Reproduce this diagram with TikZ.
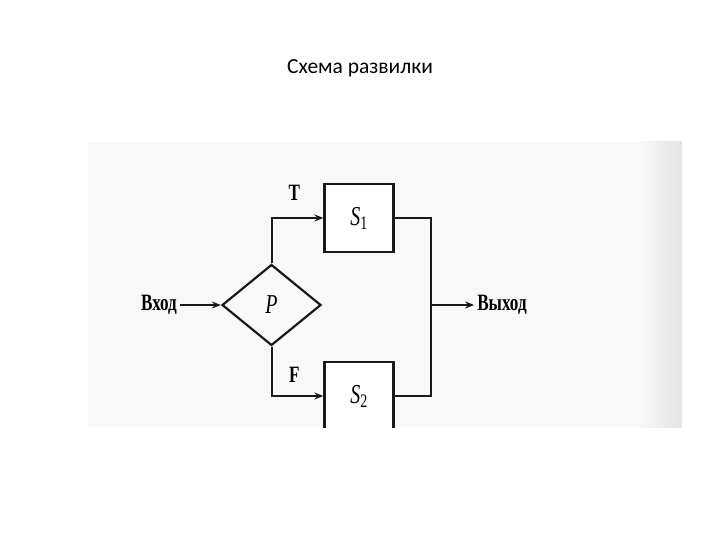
\documentclass[tikz,border=0pt]{standalone}
\usepackage{fontspec}
\setmainfont{Liberation Serif}
\newfontfamily\slidefont{Carlito}
\usepackage{tikz}
\usetikzlibrary{arrows.meta,positioning,calc,shapes.geometric}
\definecolor{ink}{RGB}{25,25,25}
\definecolor{paper}{RGB}{248,248,248}
\definecolor{edge}{RGB}{228,228,228}
\newcommand{\tall}[1]{\scalebox{0.95}[1.3]{#1}}
\tikzset{
  blk/.style={draw=ink,line width=2.2bp,fill=white,minimum width=69bp,minimum height=68bp,inner sep=0pt,
    font=\fontsize{21bp}{23bp}\selectfont},
  cond/.style={diamond,draw=ink,line width=2.2bp,minimum width=99bp,minimum height=81bp,inner sep=0pt,
    font=\fontsize{21bp}{23bp}\selectfont\itshape},
  lbl/.style={inner sep=3bp,font=\fontsize{18bp}{20bp}\selectfont\bfseries},
  arr/.style={-{Stealth[length=9bp,width=7bp]},line width=2bp,draw=ink},
  wire/.style={line width=2bp,draw=ink},
}
\begin{document}
\begin{tikzpicture}[x=1bp,y=-1bp]
  \useasboundingbox (0,0) rectangle (720,540);
  \node[font=\slidefont\fontsize{21.5bp}{25bp}\selectfont] (title) at (360,68) {Схема развилки};
  % scanned page
  \fill[paper] (88,142) rectangle (682,427);
  \shade[left color=paper,right color=edge] (640,142) rectangle (682,427);
  \begin{scope}
    \clip (88,142) rectangle (682,427);
    \node[cond] (p) at (271.5,305) {\tall{P}};
    \node[blk] (s1) at (359,218) {\tall{\textit{S}\textsubscript{1}}};
    \node[blk] (s2) at (359,396) {\tall{\textit{S}\textsubscript{2}}};
    \node[lbl] (in) at (159,305) {\tall{Вход}};
    \node[lbl] (out) at (502,305) {\tall{Выход}};
    \coordinate (mrg) at (431,305);
    \draw[arr] (in) -- (p.west);
    \draw[arr] (p.north) |- node[lbl,pos=0.72,above=13bp]{\tall{T}} (s1.west);
    \draw[arr] (p.south) |- node[lbl,pos=0.72,above=10bp]{\tall{F}} (s2.west);
    \draw[wire] (s1.east) -| (mrg);
    \draw[wire] (s2.east) -| (mrg);
    \draw[arr] (mrg) -- (out.west);
  \end{scope}
\end{tikzpicture}
\end{document}
